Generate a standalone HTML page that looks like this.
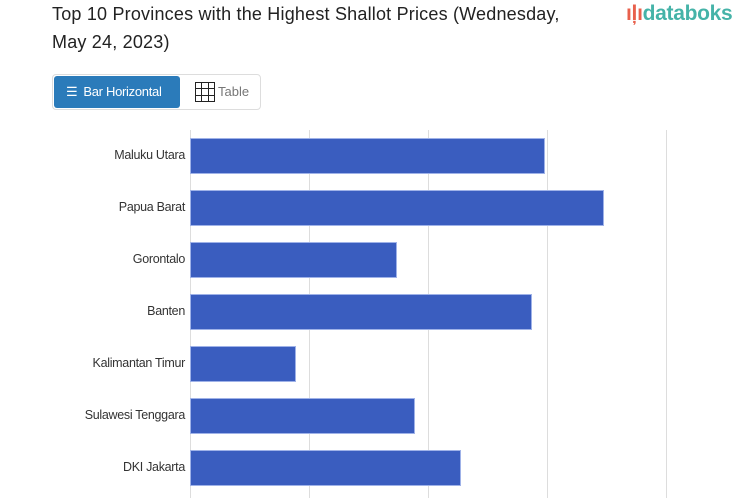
<!DOCTYPE html>
<html><head><style>
body{margin:0;width:753px;height:498px;overflow:hidden;background:#fff;font-family:"Liberation Sans",sans-serif;position:relative}
.t{position:absolute;left:52px;top:0px;font-size:18px;line-height:28px;color:#222;width:580px;letter-spacing:0.2px;white-space:nowrap}
.logo{position:absolute;left:626px;top:2px;font-size:21px;color:#45b3a8;font-weight:bold;letter-spacing:-0.3px}
.btns{position:absolute;left:52px;top:74px;width:207px;height:34px;border:1px solid #ddd;border-radius:4px}
.b1{position:absolute;left:1px;top:1px;width:126px;height:32px;background:#2b7bba;border-radius:3px;color:#fff;font-size:13px;line-height:32px;letter-spacing:-0.3px}
.b2{position:absolute;left:140px;top:0;font-size:13px;line-height:34px;color:#777}
.g{position:absolute;top:130px;width:1px;height:368px;background:#ddd}
.bar{position:absolute;left:190px;height:36px;background:#3a5dbf;border:1px solid #9fb2e8;box-sizing:border-box}
.l{position:absolute;right:568px;font-size:12.5px;color:#333;text-align:right;white-space:nowrap;letter-spacing:-0.3px}
.tb{position:absolute;left:142px;top:7px;width:20px;height:20px;border:1px solid #222;box-sizing:border-box;background-image:linear-gradient(90deg,transparent 5px,#222 5px 6px,transparent 6px 12px,#222 12px 13px,transparent 13px),linear-gradient(0deg,transparent 5px,#222 5px 6px,transparent 6px 12px,#222 12px 13px,transparent 13px)}
</style></head><body>
<div class="t">Top 10 Provinces with the Highest Shallot Prices (Wednesday,<br>May 24, 2023)</div>
<div class="logo"><span style="color:#e8604c">ıļı</span>databoks</div>
<div class="btns"><div class="b1"><span style="margin-left:12px;margin-right:6px">☰</span>Bar Horizontal</div>
<div class="tb"></div><div class="b2" style="left:165px">Table</div></div>
<div class="g" style="left:190px"></div><div class="g" style="left:309px"></div><div class="g" style="left:428px"></div><div class="g" style="left:547px"></div><div class="g" style="left:666px"></div>
<div class="bar" style="top:138px;width:355px"></div><div class="l" style="top:148px">Maluku Utara</div>
<div class="bar" style="top:190px;width:414px"></div><div class="l" style="top:200px">Papua Barat</div>
<div class="bar" style="top:242px;width:207px"></div><div class="l" style="top:252px">Gorontalo</div>
<div class="bar" style="top:294px;width:342px"></div><div class="l" style="top:304px">Banten</div>
<div class="bar" style="top:346px;width:106px"></div><div class="l" style="top:356px">Kalimantan Timur</div>
<div class="bar" style="top:398px;width:225px"></div><div class="l" style="top:408px">Sulawesi Tenggara</div>
<div class="bar" style="top:450px;width:271px"></div><div class="l" style="top:460px">DKI Jakarta</div>
</body></html>
